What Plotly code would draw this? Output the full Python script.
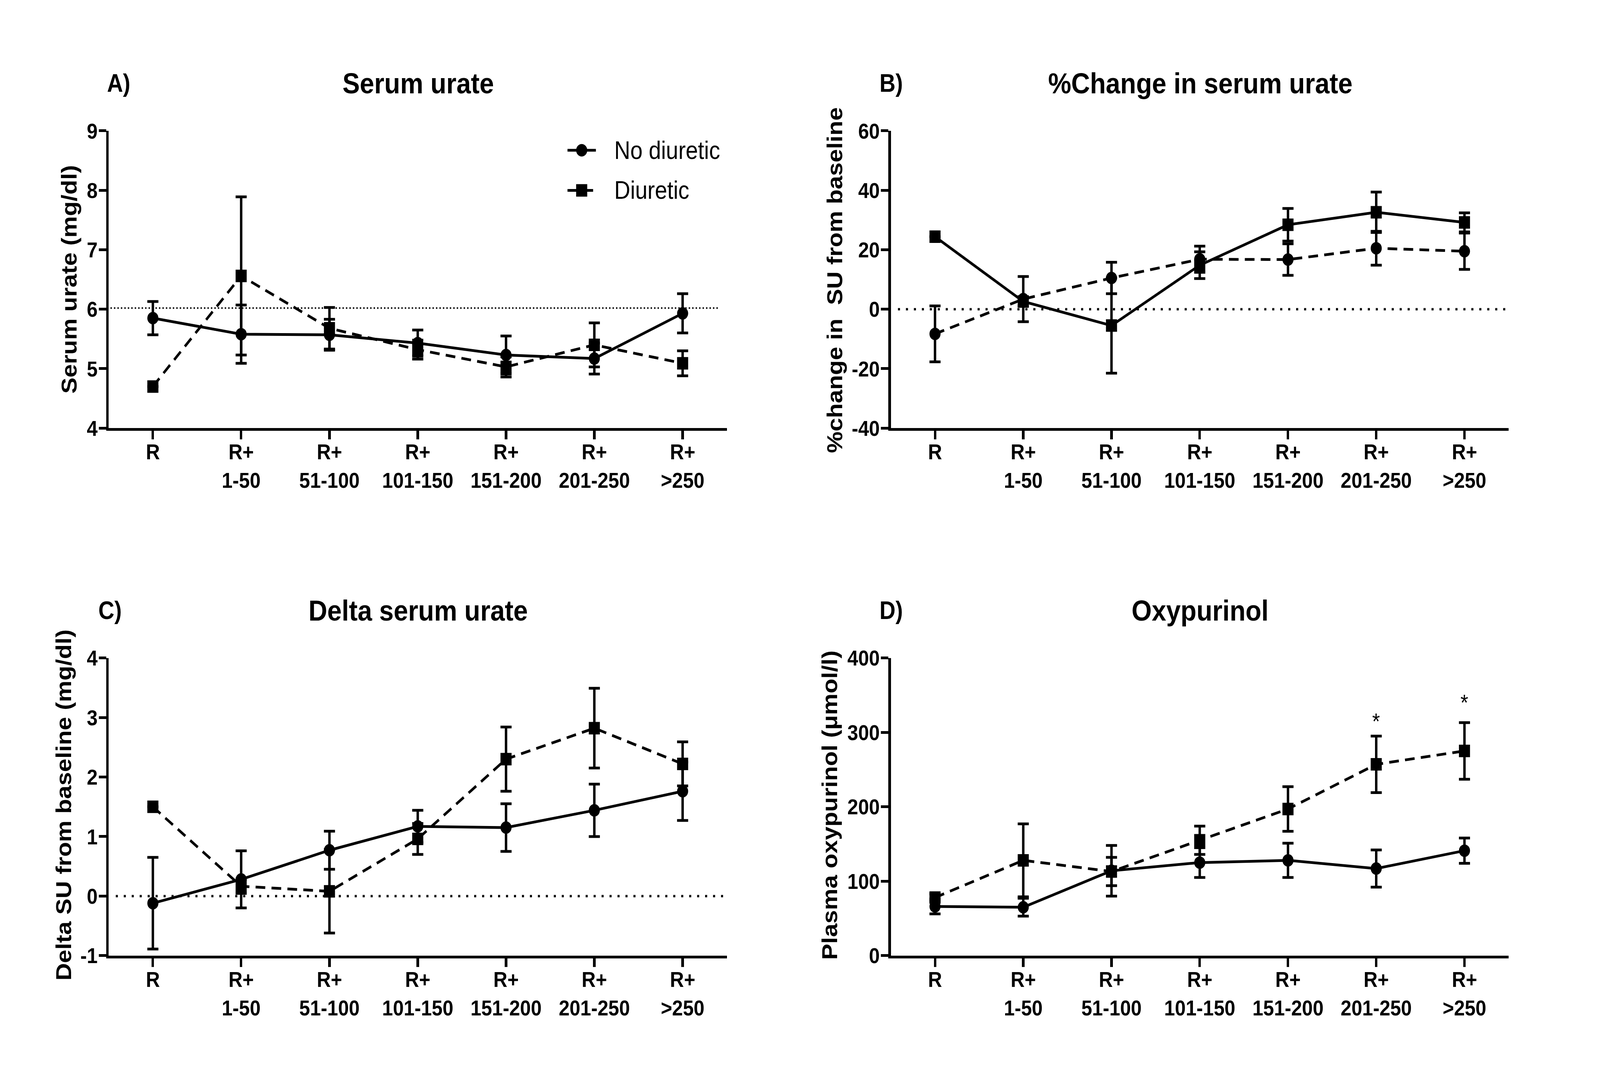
import plotly.graph_objects as go

# categories (x axis)
categories = ["R", "R+<br>1-50", "R+<br>51-100", "R+<br>101-150",
              "R+<br>151-200", "R+<br>201-250", "R+<br>>250"]
xpos = list(range(len(categories)))

# A) serum urate (mg/dl)
nd_su = [5.85, 5.58, 5.57, 5.43, 5.23, 5.17, 5.93]
nd_su_err = [0.28, 0.49, 0.26, 0.22, 0.32, 0.26, 0.33]
d_su = [4.70, 6.56, 5.68, 5.32, 5.03, 5.40, 5.09]
d_su_err = [0, 1.33, 0.35, 0.16, 0.17, 0.37, 0.21]
su_ref = 6.02
su_ticks = [4, 5, 6, 7, 8, 9]

# B) % change in serum urate
nd_pct = [-8.3, 3.4, 10.5, 16.8, 16.7, 20.5, 19.5]
nd_pct_err = [9.4, 7.6, 5.3, 4.4, 5.3, 5.7, 6.1]
d_pct = [24.4, 2.6, -5.5, 14.8, 28.4, 32.6, 29.2]
d_pct_err = [0, 1.5, 16.0, 4.5, 5.5, 6.8, 3.2]
pct_ticks = [-40, -20, 0, 20, 40, 60]

# C) delta serum urate (mg/dl)
nd_delta = [-0.12, 0.28, 0.77, 1.17, 1.15, 1.44, 1.76]
nd_delta_err = [0.77, 0.48, 0.32, 0.27, 0.40, 0.44, 0.49]
d_delta = [1.50, 0.165, 0.08, 0.96, 2.30, 2.82, 2.22]
d_delta_err = [0, 0.12, 0.70, 0.26, 0.54, 0.67, 0.37]
delta_ticks = [-1, 0, 1, 2, 3, 4]

# D) plasma oxypurinol (umol/l)
nd_oxy = [66, 65, 114, 125, 128, 117, 141]
nd_oxy_err = [10, 12, 34, 20, 23, 25, 17]
d_oxy = [78, 128, 113, 155, 197, 257, 275]
d_oxy_err = [5, 49, 19, 19, 30, 38, 38]
oxy_ticks = [0, 100, 200, 300, 400]
star_pos = [5, 6]
star_y = [322, 347]

legend_names = ["No diuretic", "Diuretic"]

FONT = "Arial, Liberation Sans, sans-serif"
DASH = "28px,18px"
W, H = 4621, 2773


def add_series(fig, y, err, sym, dash, name, xa, ya):
    fig.add_trace(go.Scatter(
        x=xpos, y=y, mode="lines+markers", name=name, showlegend=False,
        line=dict(color="black", width=7, dash=dash),
        marker=dict(symbol=sym, size=32, color="black"),
        error_y=dict(type="data", array=err, color="black",
                     thickness=7, width=16),
        xaxis=xa, yaxis=ya,
    ))


def yticks(vals):
    # plain hyphen for negatives, as in the original (plotly uses U+2212)
    return dict(tickvals=vals, ticktext=[str(v) for v in vals],
                range=[vals[0], vals[-1]])


fig = go.Figure()

# A
add_series(fig, nd_su, nd_su_err, "circle", "solid", "No diuretic", "x", "y")
add_series(fig, d_su, d_su_err, "square", DASH, "Diuretic", "x", "y")
# B (line styles swapped in the original figure)
add_series(fig, nd_pct, nd_pct_err, "circle", DASH, "No diuretic", "x2", "y2")
add_series(fig, d_pct, d_pct_err, "square", "solid", "Diuretic", "x2", "y2")
# C
add_series(fig, nd_delta, nd_delta_err, "circle", "solid", "No diuretic", "x3", "y3")
add_series(fig, d_delta, d_delta_err, "square", DASH, "Diuretic", "x3", "y3")
# D
add_series(fig, nd_oxy, nd_oxy_err, "circle", "solid", "No diuretic", "x4", "y4")
add_series(fig, d_oxy, d_oxy_err, "square", DASH, "Diuretic", "x4", "y4")

# reference lines
fig.add_shape(type="line", xref="x", yref="y", x0=-0.48, x1=6.42, y0=su_ref, y1=su_ref,
              line=dict(color="black", width=4, dash="4px,6px"))
for xr, yr in (("x2", "y2"), ("x3", "y3")):
    fig.add_shape(type="line", xref=xr, yref=yr, x0=-0.42, x1=6.5, y0=0, y1=0,
                  line=dict(color="black", width=6, dash="6px,17px"))

# legend key (Prism style: long line with a big marker in the middle)
key_x0, key_x1, key_xm = 1639 / W, 1721 / W, 1680 / W
for i, (name, sym, dash) in enumerate(zip(legend_names, ["circle", "rect"], ["solid", DASH])):
    ky = 1 - (362 + 105 * i) / H
    fig.add_shape(type="line", xref="paper", yref="paper", x0=key_x0, x1=key_x1,
                  y0=ky, y1=ky, line=dict(color="black", width=7, dash=dash))
    fig.add_shape(type=sym, xref="paper", yref="paper", xsizemode="pixel",
                  ysizemode="pixel", xanchor=key_xm, yanchor=ky,
                  x0=-16, x1=16, y0=-16, y1=16, fillcolor="black",
                  line=dict(width=0))
    fig.add_annotation(text=name, x=1772 / W, y=ky, xref="paper", yref="paper",
                       xanchor="left", yanchor="middle", showarrow=False,
                       font=dict(family=FONT, size=64, color="black"))

tick_font = dict(family=FONT, size=56, color="black", weight="bold")
xax = dict(range=[-0.5, 6.5], tickvals=xpos, ticktext=categories,
           showline=True, linewidth=7, linecolor="black", ticks="outside",
           ticklen=22, tickwidth=7, tickcolor="black", showgrid=False,
           zeroline=False, ticklabelstandoff=-16, tickfont=tick_font)
yax = dict(showline=True, linewidth=7, linecolor="black", ticks="outside",
           ticklen=22, tickwidth=7, tickcolor="black", showgrid=False,
           zeroline=False, ticklabelstandoff=-8, tickfont=tick_font)

left_dom = [314 / W, 2099 / W]
right_dom = [2573 / W, 4357 / W]
top_dom = [1 - 1090 / H, 1 - 311 / H]
bot_dom = [1 - 2472 / H, 1 - 1692 / H]

fig.update_layout(
    width=W, height=H, margin=dict(l=0, r=0, t=0, b=0),
    paper_bgcolor="white", plot_bgcolor="white",
    font=dict(family=FONT, color="black"),
    showlegend=False,
    xaxis=dict(xax, domain=left_dom, anchor="y"),
    xaxis2=dict(xax, domain=right_dom, anchor="y2"),
    xaxis3=dict(xax, domain=left_dom, anchor="y3"),
    xaxis4=dict(xax, domain=right_dom, anchor="y4"),
    yaxis=dict(yax, domain=top_dom, anchor="x", **yticks(su_ticks)),
    yaxis2=dict(yax, domain=top_dom, anchor="x2", **yticks(pct_ticks)),
    yaxis3=dict(yax, domain=bot_dom, anchor="x3", **yticks(delta_ticks)),
    yaxis4=dict(yax, domain=bot_dom, anchor="x4", **yticks(oxy_ticks)),
)

# y axis titles (placed like the Prism layout)
ytitle_font = dict(family=FONT, size=62, color="black", weight="bold")
ytitles = [
    ("Serum urate (mg/dl)", 199, 700),
    ("%change in\u00a0\u00a0SU from baseline", 2410, 703),
    ("Delta SU from baseline (mg/dl)", 184, 2078),
    ("Plasma oxypurinol (\u03bcmol/l)", 2397, 2078),
]
for text, px, py in ytitles:
    fig.add_annotation(text=text, x=px / W, y=1 - py / H, xref="paper", yref="paper",
                       xanchor="center", yanchor="middle", textangle=-90,
                       showarrow=False, font=ytitle_font)

# panel titles and letters
title_font = dict(family=FONT, size=75, color="black", weight="bold")
label_font = dict(family=FONT, size=64, color="black", weight="bold")
panels = [
    ("Serum urate", "A)", 1208 / W, 307 / W, 1 - 186 / H),
    ("%Change in serum urate", "B)", 3466 / W, 2538 / W, 1 - 186 / H),
    ("Delta serum urate", "C)", 1208 / W, 282 / W, 1 - 1568 / H),
    ("Oxypurinol", "D)", 3466 / W, 2538 / W, 1 - 1568 / H),
]
for title, letter, xc, xl, yc in panels:
    fig.add_annotation(text=title, x=xc, y=yc, xref="paper", yref="paper",
                       xanchor="center", yanchor="middle", showarrow=False,
                       font=title_font)
    fig.add_annotation(text=letter, x=xl, y=yc, xref="paper", yref="paper",
                       xanchor="left", yanchor="middle", showarrow=False,
                       font=label_font)

# significance markers (the glyph sits high in its box, so nudge it down)
for xs, ys in zip(star_pos, star_y):
    fig.add_annotation(text="*", x=xs, y=ys, xref="x4", yref="y4",
                       xanchor="center", yanchor="middle", yshift=-13,
                       showarrow=False,
                       font=dict(family=FONT, size=58, color="black"))

# the browser viewport is not 4621x2773 CSS px: stretch the figure onto it
fit_js = """
var gd = document.getElementById('{plot_id}');
var vw = window.innerWidth, vh = window.innerHeight;
document.documentElement.style.overflow = 'hidden';
document.body.style.margin = '0';
document.body.style.overflow = 'hidden';
var box = gd.parentElement;
box.style.width = vw + 'px';
box.style.height = vh + 'px';
box.style.overflow = 'hidden';
gd.style.transformOrigin = '0 0';
gd.style.transform = 'scale(' + (vw / %d) + ',' + (vh / %d) + ')';
""" % (W, H)

fig.write_html("out.html", post_script=fit_js, config={"displayModeBar": False})
